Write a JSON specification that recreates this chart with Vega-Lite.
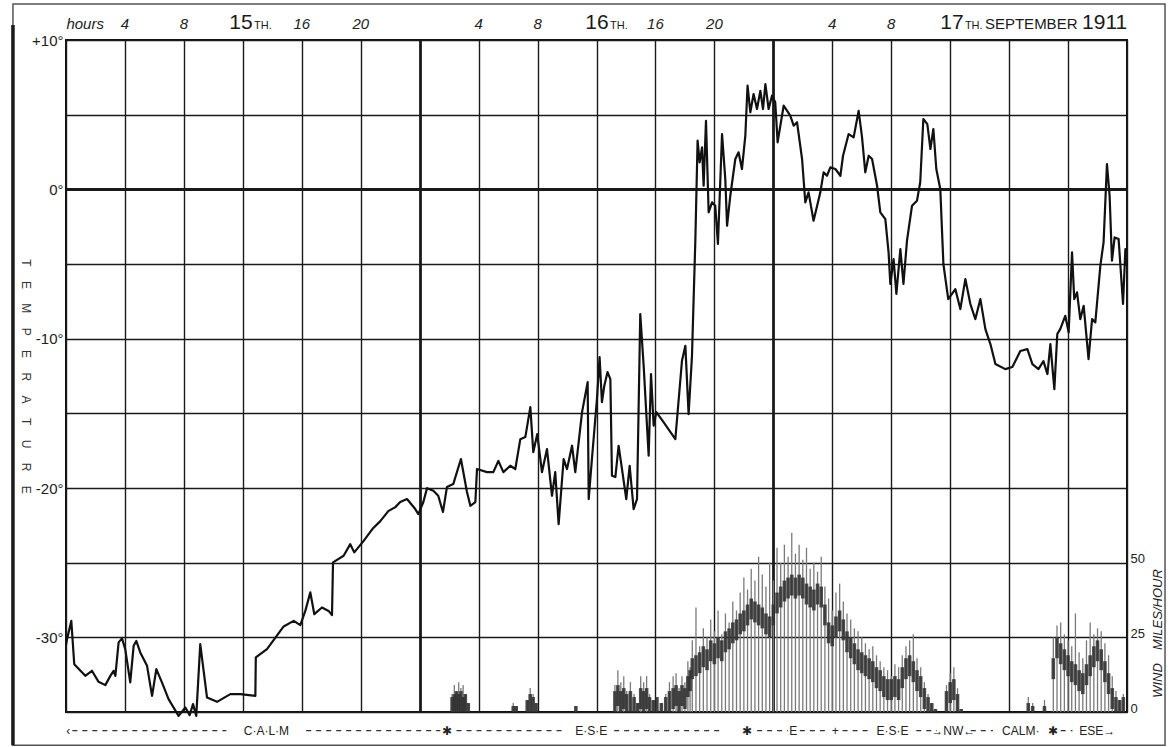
{
"$schema": "https://vega.github.io/schema/vega-lite/v6.json",
"width": 1061, "height": 672,
"autosize": {"type": "none"},
"padding": {"left": 66, "top": 40, "right": 41, "bottom": 35},
"background": "#ffffff",
"config": {"view": {"stroke": "#111111", "strokeWidth": 2}, "font": "Liberation Sans"},
"datasets": {
"one": [{"k": 1}],
"temp": [
{"h":0.0,"t":-30.5},{"h":0.07,"t":-30.12},{"h":0.36,"t":-28.9},{"h":0.56,"t":-31.8},{"h":1.31,"t":-32.58},{"h":1.76,"t":-32.24},{"h":2.21,"t":-32.98},{"h":2.67,"t":-33.2},{"h":3.01,"t":-32.58},{"h":3.23,"t":-32.24},{"h":3.35,"t":-32.58},{"h":3.57,"t":-30.34},{"h":3.8,"t":-30.07},{"h":4.02,"t":-30.79},{"h":4.36,"t":-33.02},{"h":4.59,"t":-30.57},{"h":4.77,"t":-30.24},{"h":5.04,"t":-31.01},{"h":5.5,"t":-31.91},{"h":5.84,"t":-33.92},{"h":6.13,"t":-32.13},{"h":6.51,"t":-33.02},{"h":6.96,"t":-34.14},{"h":7.64,"t":-35.26},{"h":8.1,"t":-34.7},{"h":8.39,"t":-35.21},{"h":8.62,"t":-34.47},{"h":8.84,"t":-35.26},{"h":9.11,"t":-30.46},{"h":9.57,"t":-34.03},{"h":10.25,"t":-34.32},{"h":11.15,"t":-33.8},{"h":11.83,"t":-33.8},{"h":12.85,"t":-33.92},{"h":12.88,"t":-31.35},{"h":13.64,"t":-30.79},{"h":14.77,"t":-29.27},{"h":15.45,"t":-28.9},{"h":15.9,"t":-29.18},{"h":16.24,"t":-28.23},{"h":16.58,"t":-26.99},{"h":16.85,"t":-28.45},{"h":17.37,"t":-28.0},{"h":17.82,"t":-28.23},{"h":18.05,"t":-28.51},{"h":18.12,"t":-24.98},{"h":18.84,"t":-24.54},{"h":19.29,"t":-23.76},{"h":19.56,"t":-24.31},{"h":20.2,"t":-23.54},{"h":20.79,"t":-22.75},{"h":21.33,"t":-22.22},{"h":21.87,"t":-21.55},{"h":22.35,"t":-21.28},{"h":22.68,"t":-20.94},{"h":23.14,"t":-20.74},{"h":23.7,"t":-21.41},{"h":23.91,"t":-21.75},{"h":24.25,"t":-20.94},{"h":24.5,"t":-20.01},{"h":24.93,"t":-20.19},{"h":25.26,"t":-20.52},{"h":25.58,"t":-21.61},{"h":25.85,"t":-19.94},{"h":26.28,"t":-19.74},{"h":26.8,"t":-18.06},{"h":27.21,"t":-20.27},{"h":27.44,"t":-21.19},{"h":27.78,"t":-20.94},{"h":27.89,"t":-18.73},{"h":28.57,"t":-18.94},{"h":29.0,"t":-18.94},{"h":29.34,"t":-18.18},{"h":29.68,"t":-18.94},{"h":30.15,"t":-18.51},{"h":30.49,"t":-18.73},{"h":30.83,"t":-16.73},{"h":31.17,"t":-16.59},{"h":31.51,"t":-14.58},{"h":31.71,"t":-17.6},{"h":31.98,"t":-16.39},{"h":32.3,"t":-18.94},{"h":32.64,"t":-17.39},{"h":32.98,"t":-20.52},{"h":33.2,"t":-18.94},{"h":33.43,"t":-22.42},{"h":33.77,"t":-18.06},{"h":34.0,"t":-18.73},{"h":34.34,"t":-17.17},{"h":34.56,"t":-18.94},{"h":35.02,"t":-14.92},{"h":35.4,"t":-12.91},{"h":35.47,"t":-20.74},{"h":35.69,"t":-18.06},{"h":36.03,"t":-14.05},{"h":36.21,"t":-11.23},{"h":36.37,"t":-14.25},{"h":36.53,"t":-13.15},{"h":36.75,"t":-12.24},{"h":36.94,"t":-12.71},{"h":37.05,"t":-19.18},{"h":37.28,"t":-19.27},{"h":37.5,"t":-17.17},{"h":37.73,"t":-18.73},{"h":38.02,"t":-20.74},{"h":38.25,"t":-18.51},{"h":38.52,"t":-21.41},{"h":38.75,"t":-20.74},{"h":38.97,"t":-8.35},{"h":39.2,"t":-11.82},{"h":39.54,"t":-17.84},{"h":39.7,"t":-12.37},{"h":39.88,"t":-15.83},{"h":40.06,"t":-14.92},{"h":40.55,"t":-15.59},{"h":41.35,"t":-16.73},{"h":41.8,"t":-11.48},{"h":42.03,"t":-10.48},{"h":42.25,"t":-15.05},{"h":42.48,"t":-11.15},{"h":42.71,"t":-3.33},{"h":42.86,"t":3.26},{"h":43.0,"t":1.81},{"h":43.16,"t":2.81},{"h":43.27,"t":0.24},{"h":43.43,"t":4.59},{"h":43.61,"t":-1.54},{"h":43.84,"t":-0.87},{"h":44.06,"t":-1.1},{"h":44.24,"t":-3.66},{"h":44.52,"t":3.7},{"h":44.74,"t":0.69},{"h":44.86,"t":-2.44},{"h":45.08,"t":-0.43},{"h":45.42,"t":2.03},{"h":45.64,"t":2.48},{"h":45.87,"t":1.36},{"h":46.1,"t":3.59},{"h":46.25,"t":6.94},{"h":46.44,"t":5.16},{"h":46.66,"t":6.38},{"h":46.89,"t":5.38},{"h":47.12,"t":6.6},{"h":47.3,"t":5.38},{"h":47.46,"t":7.05},{"h":47.68,"t":5.38},{"h":47.91,"t":6.27},{"h":48.13,"t":5.83},{"h":48.29,"t":3.15},{"h":48.7,"t":5.6},{"h":49.15,"t":4.93},{"h":49.38,"t":4.26},{"h":49.61,"t":4.49},{"h":49.95,"t":2.03},{"h":50.17,"t":-0.87},{"h":50.39,"t":-0.2},{"h":50.73,"t":-2.1},{"h":51.19,"t":-0.2},{"h":51.41,"t":1.14},{"h":51.64,"t":0.91},{"h":51.87,"t":1.47},{"h":52.21,"t":1.36},{"h":52.55,"t":0.91},{"h":52.73,"t":2.25},{"h":53.11,"t":3.7},{"h":53.45,"t":3.48},{"h":53.79,"t":5.26},{"h":54.02,"t":3.48},{"h":54.24,"t":1.14},{"h":54.47,"t":2.25},{"h":54.7,"t":2.03},{"h":55.04,"t":0.24},{"h":55.26,"t":-1.54},{"h":55.6,"t":-1.99},{"h":55.82,"t":-4.22},{"h":55.94,"t":-6.34},{"h":56.16,"t":-4.67},{"h":56.35,"t":-7.01},{"h":56.62,"t":-4.0},{"h":56.83,"t":-6.34},{"h":57.07,"t":-3.44},{"h":57.41,"t":-1.1},{"h":57.75,"t":-0.76},{"h":57.97,"t":0.49},{"h":58.18,"t":4.71},{"h":58.45,"t":4.37},{"h":58.66,"t":2.7},{"h":58.86,"t":4.04},{"h":59.06,"t":1.36},{"h":59.33,"t":0.02},{"h":59.54,"t":-5.0},{"h":59.87,"t":-7.35},{"h":60.35,"t":-6.68},{"h":60.69,"t":-8.02},{"h":61.03,"t":-6.01},{"h":61.37,"t":-7.68},{"h":61.71,"t":-8.69},{"h":62.05,"t":-7.35},{"h":62.39,"t":-9.36},{"h":62.73,"t":-10.36},{"h":63.07,"t":-11.7},{"h":63.74,"t":-12.04},{"h":64.22,"t":-11.9},{"h":64.76,"t":-10.83},{"h":65.24,"t":-10.7},{"h":65.58,"t":-11.7},{"h":65.99,"t":-12.04},{"h":66.33,"t":-11.5},{"h":66.6,"t":-12.37},{"h":66.8,"t":-10.36},{"h":67.07,"t":-13.38},{"h":67.27,"t":-9.69},{"h":67.47,"t":-9.36},{"h":67.81,"t":-8.47},{"h":68.04,"t":-9.58},{"h":68.27,"t":-4.22},{"h":68.42,"t":-7.35},{"h":68.61,"t":-6.9},{"h":68.83,"t":-8.69},{"h":69.06,"t":-7.8},{"h":69.39,"t":-11.37},{"h":69.63,"t":-8.69},{"h":69.85,"t":-8.91},{"h":70.19,"t":-5.12},{"h":70.41,"t":-3.55},{"h":70.64,"t":1.69},{"h":70.82,"t":-0.43},{"h":70.98,"t":-4.78},{"h":71.16,"t":-3.22},{"h":71.43,"t":-3.33},{"h":71.73,"t":-7.68},{"h":71.89,"t":-4.0},{"h":72.0,"t":-5.12}
],
"wind": [
{"h":26.2,"lo":0,"hi":5,"g":6},{"h":26.35,"lo":0,"hi":6,"g":9},{"h":26.5,"lo":0,"hi":7,"g":7},{"h":26.65,"lo":0,"hi":6,"g":10},{"h":26.8,"lo":0,"hi":7,"g":8},{"h":26.95,"lo":0,"hi":5,"g":9},{"h":27.1,"lo":0,"hi":6,"g":6},{"h":27.3,"lo":0,"hi":3,"g":3},
{"h":30.35,"lo":0,"hi":2,"g":3},{"h":30.55,"lo":0,"hi":2,"g":2},{"h":31.3,"lo":0,"hi":4,"g":4},{"h":31.5,"lo":0,"hi":6,"g":8},{"h":31.7,"lo":0,"hi":5,"g":6},{"h":31.9,"lo":0,"hi":3,"g":3},{"h":34.6,"lo":0,"hi":2,"g":2},
{"h":37.25,"lo":0,"hi":7,"g":9},{"h":37.45,"lo":2,"hi":9,"g":14},{"h":37.65,"lo":0,"hi":7,"g":10},{"h":37.85,"lo":1,"hi":8,"g":12},{"h":38.05,"lo":0,"hi":6,"g":7},{"h":38.3,"lo":0,"hi":7,"g":10},{"h":38.55,"lo":0,"hi":5,"g":6},{"h":38.8,"lo":0,"hi":3,"g":3},{"h":39.0,"lo":1,"hi":8,"g":12},{"h":39.2,"lo":0,"hi":7,"g":10},{"h":39.4,"lo":1,"hi":8,"g":12},{"h":39.6,"lo":0,"hi":5,"g":6},{"h":39.85,"lo":0,"hi":4,"g":4},{"h":40.1,"lo":0,"hi":5,"g":5},{"h":40.4,"lo":0,"hi":3,"g":3},{"h":40.7,"lo":0,"hi":5,"g":6},{"h":40.95,"lo":0,"hi":7,"g":10},{"h":41.2,"lo":1,"hi":8,"g":12},{"h":41.4,"lo":2,"hi":9,"g":13},{"h":41.6,"lo":0,"hi":7,"g":8},{"h":41.8,"lo":2,"hi":9,"g":12},{"h":42.0,"lo":1,"hi":8,"g":10},{"h":42.2,"lo":5,"hi":12,"g":17},{"h":42.35,"lo":7,"hi":14,"g":15},
{"h":42.5,"lo":11,"hi":18,"g":24},{"h":42.75,"lo":12,"hi":19,"g":35},{"h":43.0,"lo":13,"hi":20,"g":22},{"h":43.25,"lo":15,"hi":22,"g":28},{"h":43.5,"lo":14,"hi":21,"g":25},{"h":43.75,"lo":17,"hi":24,"g":31},{"h":44.0,"lo":16,"hi":23,"g":27},{"h":44.25,"lo":18,"hi":25,"g":34},{"h":44.5,"lo":17,"hi":24,"g":26},{"h":44.75,"lo":20,"hi":27,"g":33},{"h":45.0,"lo":21,"hi":28,"g":30},{"h":45.25,"lo":23,"hi":30,"g":37},{"h":45.5,"lo":24,"hi":31,"g":34},{"h":45.75,"lo":26,"hi":33,"g":40},{"h":46.0,"lo":27,"hi":34,"g":45},{"h":46.25,"lo":29,"hi":36,"g":41},{"h":46.5,"lo":31,"hi":38,"g":48},{"h":46.75,"lo":30,"hi":37,"g":44},{"h":47.0,"lo":29,"hi":36,"g":52},{"h":47.25,"lo":28,"hi":35,"g":46},{"h":47.5,"lo":26,"hi":33,"g":42},{"h":47.75,"lo":25,"hi":32,"g":50},{"h":48.0,"lo":29,"hi":36,"g":44},{"h":48.25,"lo":33,"hi":40,"g":55},{"h":48.5,"lo":35,"hi":42,"g":50},{"h":48.75,"lo":37,"hi":44,"g":56},{"h":49.0,"lo":38,"hi":45,"g":52},{"h":49.25,"lo":39,"hi":46,"g":60},{"h":49.5,"lo":38,"hi":45,"g":53},{"h":49.75,"lo":39,"hi":46,"g":56},{"h":50.0,"lo":38,"hi":45,"g":51},{"h":50.25,"lo":36,"hi":43,"g":55},{"h":50.5,"lo":35,"hi":42,"g":48},{"h":50.75,"lo":34,"hi":41,"g":50},{"h":51.0,"lo":36,"hi":43,"g":47},{"h":51.25,"lo":35,"hi":42,"g":52},{"h":51.5,"lo":29,"hi":36,"g":42},{"h":51.75,"lo":23,"hi":30,"g":38},{"h":52.0,"lo":22,"hi":29,"g":34},{"h":52.25,"lo":25,"hi":32,"g":40},{"h":52.5,"lo":27,"hi":34,"g":43},{"h":52.75,"lo":24,"hi":31,"g":37},{"h":53.0,"lo":20,"hi":27,"g":33},{"h":53.25,"lo":18,"hi":25,"g":31},{"h":53.5,"lo":16,"hi":23,"g":28},{"h":53.75,"lo":14,"hi":21,"g":27},{"h":54.0,"lo":13,"hi":20,"g":25},{"h":54.25,"lo":12,"hi":19,"g":23},{"h":54.5,"lo":11,"hi":18,"g":21},{"h":54.75,"lo":10,"hi":17,"g":22},{"h":55.0,"lo":8,"hi":15,"g":19},{"h":55.25,"lo":7,"hi":14,"g":17},{"h":55.5,"lo":5,"hi":12,"g":15},{"h":55.75,"lo":4,"hi":11,"g":14},{"h":56.0,"lo":4,"hi":11,"g":12},{"h":56.25,"lo":5,"hi":12,"g":16},{"h":56.5,"lo":4,"hi":11,"g":15},{"h":56.75,"lo":8,"hi":15,"g":19},{"h":57.0,"lo":11,"hi":18,"g":22},{"h":57.25,"lo":12,"hi":19,"g":24},{"h":57.5,"lo":10,"hi":17,"g":26},{"h":57.75,"lo":7,"hi":14,"g":18},{"h":58.0,"lo":5,"hi":12,"g":15},{"h":58.25,"lo":1,"hi":8,"g":10},{"h":58.5,"lo":0,"hi":5,"g":6},{"h":58.75,"lo":0,"hi":3,"g":3},{"h":59.0,"lo":0,"hi":1,"g":1},{"h":59.75,"lo":0,"hi":7,"g":9},{"h":60.0,"lo":3,"hi":10,"g":13},{"h":60.25,"lo":4,"hi":11,"g":15},{"h":60.5,"lo":0,"hi":6,"g":8},{"h":60.75,"lo":0,"hi":1,"g":1},
{"h":65.3,"lo":0,"hi":3,"g":5},{"h":65.6,"lo":0,"hi":2,"g":3},{"h":66.4,"lo":0,"hi":2,"g":4},
{"h":67.0,"lo":11,"hi":18,"g":25},{"h":67.25,"lo":18,"hi":25,"g":29},{"h":67.5,"lo":16,"hi":23,"g":30},{"h":67.75,"lo":14,"hi":21,"g":26},{"h":68.0,"lo":12,"hi":19,"g":24},{"h":68.25,"lo":10,"hi":17,"g":22},{"h":68.5,"lo":9,"hi":16,"g":33},{"h":68.75,"lo":7,"hi":14,"g":20},{"h":69.0,"lo":6,"hi":13,"g":18},{"h":69.25,"lo":9,"hi":16,"g":24},{"h":69.5,"lo":12,"hi":19,"g":30},{"h":69.75,"lo":15,"hi":22,"g":26},{"h":70.0,"lo":17,"hi":24,"g":28},{"h":70.25,"lo":14,"hi":21,"g":27},{"h":70.5,"lo":10,"hi":17,"g":23},{"h":70.75,"lo":6,"hi":13,"g":19},{"h":71.0,"lo":1,"hi":8,"g":12},{"h":71.25,"lo":0,"hi":5,"g":7},{"h":71.5,"lo":0,"hi":4,"g":4},{"h":71.75,"lo":0,"hi":5,"g":6}
],
"hourTop": [{"h":1.3,"t":"hours"},{"h":4,"t":"4"},{"h":8,"t":"8"},{"h":16,"t":"16"},{"h":20,"t":"20"},{"h":28,"t":"4"},{"h":32,"t":"8"},{"h":40,"t":"16"},{"h":44,"t":"20"},{"h":52,"t":"4"},{"h":56,"t":"8"}],
"bigTop": [{"h":11.08,"t":"15"},{"h":35.24,"t":"16"},{"h":59.33,"t":"17"},{"h":68.95,"t":"1911"}],
"smallTop": [{"h":12.76,"t":"TH."},{"h":36.92,"t":"TH."},{"h":61.0,"t":"TH."}],
"monthTop": [{"h":62.36,"t":"SEPTEMBER"}],
"dirLabels": [{"h":0.15,"t":"‹"},{"h":13.6,"t":"C·A·L·M"},{"h":25.88,"t":"✱"},{"h":35.65,"t":"E·S·E"},{"h":46.23,"t":"✱"},{"h":49.35,"t":"E"},{"h":52.2,"t":"+"},{"h":56.08,"t":"E·S·E"},{"h":60.21,"t":"→NW←"},{"h":64.79,"t":"CALM·"},{"h":67.0,"t":"✱"},{"h":69.98,"t":"ESE→"}],
"dirDash": [{"h0":0.43,"h1":10.88},{"h0":16.3,"h1":25.4},{"h0":26.5,"h1":33.7},{"h0":37.2,"h1":44.4},{"h0":46.9,"h1":49.0},{"h0":49.8,"h1":51.7},{"h0":52.7,"h1":54.4},{"h0":57.7,"h1":59.1},{"h0":61.4,"h1":62.9},{"h0":67.5,"h1":68.3}]
},
"resolve": {"scale": {"y": "independent"}},
"layer": [
{"layer": [
 {"data": {"name": "temp"},
  "mark": {"type": "line", "color": "#111111", "strokeWidth": 2.2, "strokeJoin": "round"},
  "encoding": {
   "x": {"field": "h", "type": "quantitative", "scale": {"domain": [0, 72], "nice": false},
     "axis": {"orient": "top", "values": [0,4,8,12,16,20,24,28,32,36,40,44,48,52,56,60,64,68,72], "labels": false, "ticks": false, "domain": false, "grid": true, "gridColor": "#1a1a1a", "gridOpacity": 1,
       "gridWidth": {"condition": {"test": "datum.value === 24 || datum.value === 48", "value": 2.8}, "value": 1.4}, "title": null}},
   "y": {"field": "t", "type": "quantitative", "scale": {"domain": [-35, 10], "nice": false},
     "axis": {"orient": "left", "values": [-35,-30,-25,-20,-15,-10,-5,0,5,10], "grid": true, "gridColor": "#1a1a1a", "gridOpacity": 1,
       "gridWidth": {"condition": {"test": "datum.value === 0", "value": 2.8}, "value": 1.4},
       "ticks": false, "domain": false,
       "labelExpr": "datum.value === 10 ? '+10°' : ((datum.value % 10 === 0 && datum.value > -35) ? datum.value + '°' : '')",
       "labelFontSize": 15, "labelColor": "#222222", "labelPadding": 3,
       "title": "T\u2003\u2009E\u2003\u2009M\u2003\u2009P\u2003\u2009E\u2003\u2009R\u2003\u2009A\u2003\u2009T\u2003\u2009U\u2003\u2009R\u2003\u2009E", "titleAngle": 90, "titleFontSize": 12, "titleFontWeight": "normal", "titleColor": "#333333",
       "titleX": -41, "titleY": 336, "titleAlign": "center", "titleBaseline": "middle"}}}},
 {"data": {"name": "one"},
  "mark": {"type": "rect", "fill": null, "stroke": "#555555", "strokeWidth": 1.5},
  "encoding": {
   "x": {"datum": -3.6, "type": "quantitative"},
   "x2": {"datum": 74.58},
   "y": {"datum": 12.41, "type": "quantitative"},
   "y2": {"datum": -37.22}}},
 {"data": {"name": "one"},
  "mark": {"type": "rule", "stroke": "#1a1a1a", "strokeWidth": 3.5},
  "encoding": {
   "x": {"datum": -3.6, "type": "quantitative"},
   "y": {"datum": 11.0, "type": "quantitative"},
   "y2": {"datum": -37.22}}},
 {"data": {"name": "hourTop"},
  "mark": {"type": "text", "fontStyle": "italic", "fontSize": 15, "color": "#222222", "align": "center", "baseline": "alphabetic"},
  "encoding": {"x": {"field": "h", "type": "quantitative"}, "y": {"datum": 10.75, "type": "quantitative"}, "text": {"field": "t"}}},
 {"data": {"name": "bigTop"},
  "mark": {"type": "text", "fontSize": 21, "color": "#1a1a1a", "align": "left", "baseline": "alphabetic"},
  "encoding": {"x": {"field": "h", "type": "quantitative"}, "y": {"datum": 10.75, "type": "quantitative"}, "text": {"field": "t"}}},
 {"data": {"name": "smallTop"},
  "mark": {"type": "text", "fontSize": 11, "color": "#1a1a1a", "align": "left", "baseline": "alphabetic"},
  "encoding": {"x": {"field": "h", "type": "quantitative"}, "y": {"datum": 10.75, "type": "quantitative"}, "text": {"field": "t"}}},
 {"data": {"name": "monthTop"},
  "mark": {"type": "text", "fontSize": 15, "color": "#1a1a1a", "align": "left", "baseline": "alphabetic"},
  "encoding": {"x": {"field": "h", "type": "quantitative"}, "y": {"datum": 10.75, "type": "quantitative"}, "text": {"field": "t"}}},
 {"data": {"name": "dirDash"},
  "mark": {"type": "rule", "stroke": "#333333", "strokeWidth": 1.2, "strokeDash": [5, 5]},
  "encoding": {"x": {"field": "h0", "type": "quantitative"}, "x2": {"field": "h1"}, "y": {"datum": -36.25, "type": "quantitative"}}},
 {"data": {"name": "dirLabels"},
  "mark": {"type": "text", "fontSize": 12, "color": "#222222", "align": "center", "baseline": "middle"},
  "encoding": {"x": {"field": "h", "type": "quantitative"}, "y": {"datum": -36.25, "type": "quantitative"}, "text": {"field": "t"}}}
]},
{"layer": [
 {"data": {"name": "wind"},
  "mark": {"type": "rule", "stroke": "#7a7a7a", "strokeWidth": 1.3},
  "encoding": {
   "x": {"field": "h", "type": "quantitative"},
   "y": {"field": "g", "type": "quantitative", "scale": {"domain": [0, 225], "nice": false},
     "axis": {"orient": "right", "values": [0, 25, 50], "grid": false, "ticks": false, "domain": false, "labelFontSize": 13, "labelColor": "#222222", "labelPadding": 3, "labelBaseline": "alphabetic",
       "title": "WIND\u2002\u2002MILES/HOUR", "titleAngle": -90, "titleFontStyle": "italic", "titleFontWeight": "normal", "titleFontSize": 13, "titleColor": "#222222",
       "titleX": 30, "titleY": 593, "titleAlign": "center", "titleBaseline": "middle"}},
   "y2": {"datum": 0}}},
 {"data": {"name": "wind"},
  "mark": {"type": "rule", "stroke": "#2e2e2e", "strokeWidth": 3.6, "opacity": 0.85},
  "encoding": {
   "x": {"field": "h", "type": "quantitative"},
   "y": {"field": "lo", "type": "quantitative"},
   "y2": {"field": "hi"}}}
]}
]
}
